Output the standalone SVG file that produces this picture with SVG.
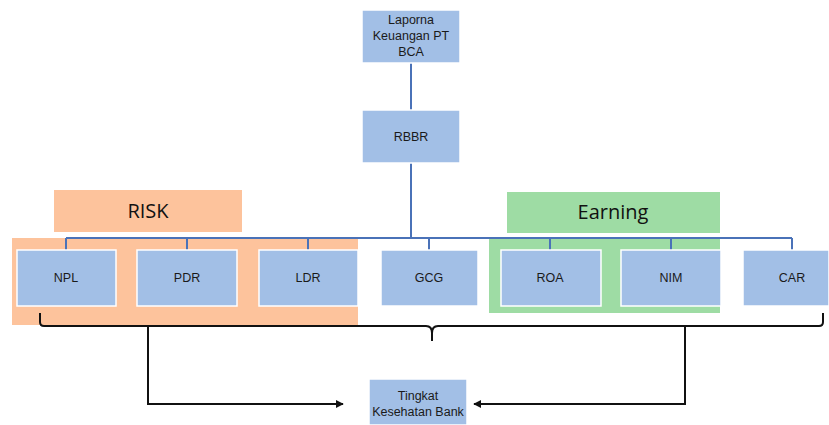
<svg xmlns="http://www.w3.org/2000/svg" width="829" height="425" viewBox="0 0 829 425">
<style>
.box{fill:#A2BFE6;stroke:#ffffff;stroke-width:1.5}
.t{font-family:"Liberation Sans",Arial,sans-serif;font-size:12.5px;fill:#1a1a1a;text-anchor:middle}
.big{font-family:"Open Sans","Liberation Sans",sans-serif;font-size:20px;fill:#111;text-anchor:middle}
.blue{stroke:#4A72B8;stroke-width:2;fill:none}
.blk{stroke:#111;stroke-width:2;fill:none}
</style>
<defs>
<marker id="ah" viewBox="0 0 10 10" refX="9" refY="5" markerWidth="4" markerHeight="4" orient="auto">
<path d="M0,0 L10,5 L0,10 z" fill="#111"/>
</marker>
</defs>
<rect width="829" height="425" fill="#ffffff"/>
<g id="groups">
<rect x="12" y="238" width="346" height="87" fill="#FDC39C"/>
<rect x="54" y="190" width="188" height="42" fill="#FDC39C"/>
<text class="big" x="148" y="218">RISK</text>
<rect x="489" y="238" width="231" height="75" fill="#9EDCA4"/>
<rect x="507" y="192" width="213" height="41" fill="#9EDCA4"/>
<text class="big" x="613" y="219">Earning</text>
</g>
<g id="connectors">
<line class="blue" x1="411" y1="63" x2="411" y2="110"/>
<line class="blue" x1="411" y1="163" x2="411" y2="238"/>
<line class="blue" x1="66" y1="238" x2="792" y2="238"/>
<line class="blue" x1="66" y1="238" x2="66" y2="250"/>
<line class="blue" x1="187" y1="238" x2="187" y2="250"/>
<line class="blue" x1="308" y1="238" x2="308" y2="250"/>
<line class="blue" x1="429" y1="238" x2="429" y2="250"/>
<line class="blue" x1="550" y1="238" x2="550" y2="250"/>
<line class="blue" x1="671" y1="238" x2="671" y2="250"/>
<line class="blue" x1="792" y1="238" x2="792" y2="250"/>
<path class="blk" d="M40,313 L40,322 Q40,326 44,326 L426,326 Q432,326 432,333 L432,341 M432,333 Q432,326 438,326 L819,326 Q823,326 823,322 L823,313"/>
<path class="blk" d="M148,327 L148,404 L343,404" marker-end="url(#ah)"/>
<path class="blk" d="M685,327 L685,404 L474,404" marker-end="url(#ah)"/>
</g>
<g id="n-laporan"><rect class="box" x="362" y="10" width="98" height="53"/>
<text class="t" x="411" y="24">Laporna</text><text class="t" x="411" y="40">Keuangan PT</text><text class="t" x="411" y="56">BCA</text></g>
<g id="n-rbbr"><rect class="box" x="362" y="110" width="98" height="53"/><text class="t" x="411" y="141">RBBR</text></g>
<g id="n-npl"><rect class="box" x="17" y="250" width="99" height="56"/><text class="t" x="66" y="282">NPL</text></g>
<g id="n-pdr"><rect class="box" x="137" y="250" width="100" height="56"/><text class="t" x="187" y="282">PDR</text></g>
<g id="n-ldr"><rect class="box" x="259" y="250" width="99" height="56"/><text class="t" x="308" y="282">LDR</text></g>
<g id="n-gcg"><rect class="box" x="381" y="250" width="97" height="56"/><text class="t" x="429" y="282">GCG</text></g>
<g id="n-roa"><rect class="box" x="501" y="250" width="100" height="56"/><text class="t" x="550" y="282">ROA</text></g>
<g id="n-nim"><rect class="box" x="621" y="250" width="100" height="56"/><text class="t" x="671" y="282">NIM</text></g>
<g id="n-car"><rect class="box" x="743" y="250" width="86" height="56"/><text class="t" x="792" y="282">CAR</text></g>
<g id="n-tingkat"><rect class="box" x="369" y="379" width="98" height="46"/>
<text class="t" x="418" y="400">Tingkat</text><text class="t" x="418" y="416">Kesehatan Bank</text></g>
</svg>
